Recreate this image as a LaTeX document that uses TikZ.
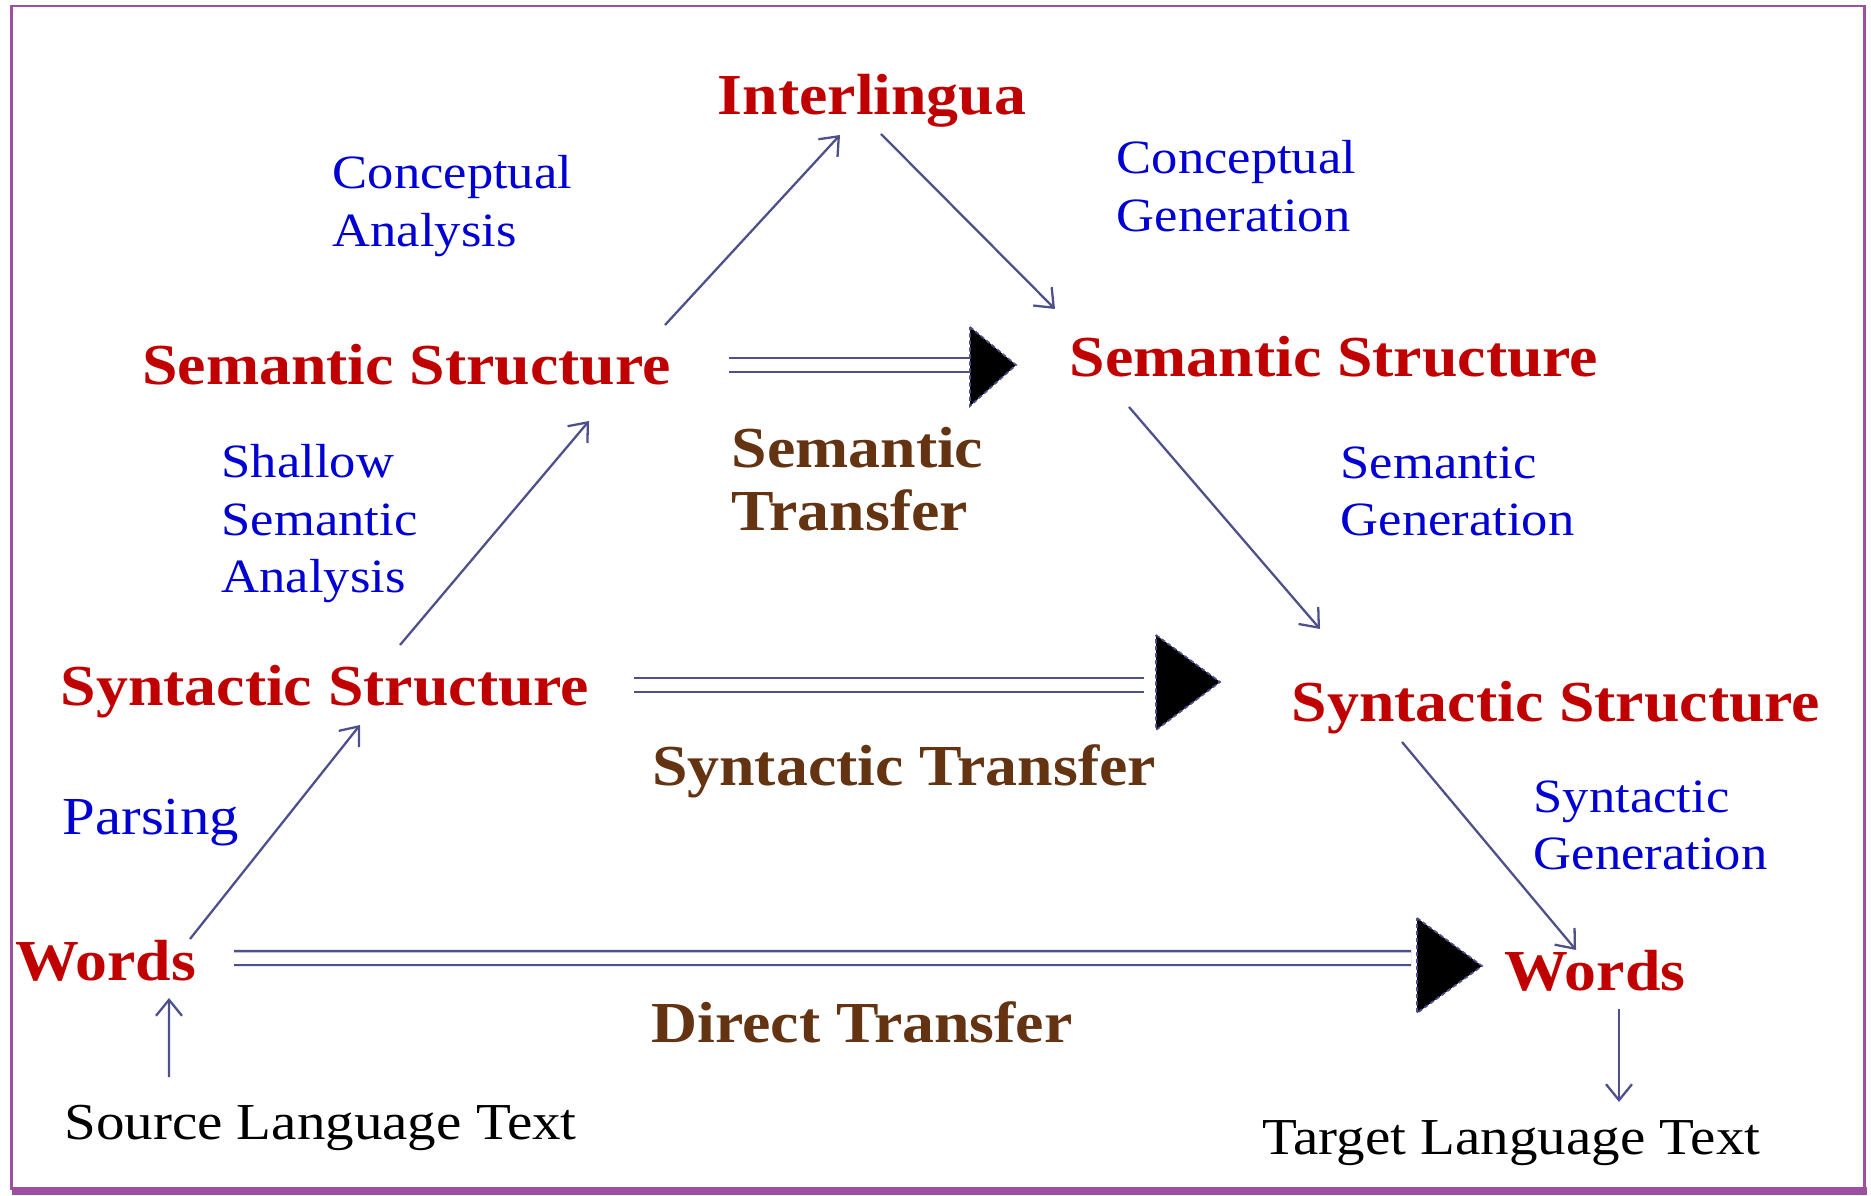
\documentclass[tikz,border=0pt]{standalone}
\usepackage{fontspec}
\setmainfont{Liberation Serif}[FakeStretch=1.1]
\usetikzlibrary{arrows.meta,calc}

\definecolor{levelred}{RGB}{192,0,0}
\definecolor{stepblue}{RGB}{0,0,210}
\definecolor{transbrown}{RGB}{99,51,18}
\definecolor{slate}{RGB}{78,80,140}
\definecolor{framepurple}{RGB}{155,80,160}

\begin{document}
\begin{tikzpicture}
		\tikzset{level/.style = {text=levelred, font=\fontsize{16.5}{18}\selectfont\bfseries, inner sep=0pt, anchor=base}}
		\tikzset{stepname/.style = {text=stepblue, font=\fontsize{13.6}{16.5}\selectfont, align=left, inner sep=0pt, anchor=base west}}
		\tikzset{trans/.style = {text=transbrown, font=\fontsize{16.5}{18.2}\selectfont\bfseries, align=left, inner sep=0pt, anchor=base west}}
		\tikzset{plain/.style = {text=black, font=\fontsize{14.75}{17}\selectfont, inner sep=0pt, anchor=base}}
		\tikzset{flow/.style = {draw=slate, line width=0.65pt, -{Straight Barb[length=1.6mm,width=2.6mm]}}}
		\tikzset{transfer/.style = {draw=slate, line width=0.7pt, double=white, double distance=0.115cm}}
		\tikzset{bighead/.style = {fill=black, draw=slate, line width=0.5pt, dashed, dash pattern=on 1.2pt off 0.8pt}}

		\useasboundingbox (0,0) rectangle (18.71,11.95);
		\draw[framepurple, line width=0.8pt] (0.115,0.06) rectangle (18.645,11.89);
		\fill[framepurple] (0.12,0) rectangle (18.665,0.08);

		\node[level] (inter) at (8.72,10.80) {Interlingua};
		\node[level] (semL) at (4.065,8.10) {Semantic Structure};
		\node[level] (semR) at (13.34,8.18) {Semantic Structure};
		\node[level] (synL) at (3.25,4.89) {Syntactic Structure};
		\node[level] (synR) at (15.56,4.73) {Syntactic Structure};
		\node[level] (wordL) at (1.055,2.15) {Words};
		\node[level] (wordR) at (15.95,2.05) {Words};

		\node[plain] (src) at (3.205,0.56) {Source Language Text};
		\node[plain] (tgt) at (15.115,0.41) {Target Language Text};

		\node[stepname] (conA) at (3.32,9.48) {Conceptual\\Analysis};
		\node[stepname] (conG) at (11.16,9.63) {Conceptual\\Generation};
		\node[stepname] (shallow) at (2.21,6.02) {Shallow\\Semantic\\Analysis};
		\node[stepname] (semG) at (13.40,6.59) {Semantic\\Generation};
		\node[stepname, font=\fontsize{15.2}{17}\selectfont] (parse) at (0.62,3.60) {Parsing};
		\node[stepname] (synG) at (15.33,3.25) {Syntactic\\Generation};

		\node[trans] (semT) at (7.31,6.64) {Semantic\\Transfer};
		\node[trans, anchor=base] (synT) at (9.04,4.09) {Syntactic Transfer};
		\node[trans, anchor=base] (dirT) at (8.62,1.53) {Direct Transfer};

		\draw[flow] ($(src.base)+(-1.515,0.62)$) -- ($(wordL.base)+(0.635,-0.18)$);
		\draw[flow] ($(wordL.base)+(0.845,0.41)$) -- ($(synL.base)+(0.35,-0.19)$);
		\draw[flow] ($(synL.base)+(0.75,0.61)$) -- ($(semL.base)+(1.825,-0.36)$);
		\draw[flow] ($(semL.base)+(2.585,0.60)$) -- ($(inter.base)+(-0.32,-0.20)$);
		\draw[flow] ($(inter.base)+(0.09,-0.19)$) -- ($(semR.base)+(-2.79,0.68)$);
		\draw[flow] ($(semR.base)+(-2.05,-0.30)$) -- ($(synR.base)+(-2.36,0.93)$);
		\draw[flow] ($(synR.base)+(-1.54,-0.20)$) -- ($(wordR.base)+(-0.19,0.40)$);
		\draw[flow] ($(wordR.base)+(0.24,-0.19)$) -- ($(tgt.base)+(1.075,0.52)$);

		\coordinate (semHead) at (9.70,8.30);
		\coordinate (synHead) at (11.56,5.10);
		\coordinate (dirHead) at (14.17,2.37);

		\draw[transfer] ($(semL.base)+(3.225,0.20)$) -- (semHead);
		\draw[transfer, shorten >=0.12cm] ($(synL.base)+(3.09,0.21)$) -- (synHead);
		\draw[transfer, shorten >=0.06cm] ($(wordL.base)+(1.285,0.22)$) -- (dirHead);

		\draw[bighead] ($(semHead)+(0,0.38)$) -- ++(0.46,-0.38) -- ++(-0.46,-0.41) -- cycle;
		\draw[bighead] ($(synHead)+(0,0.50)$) -- ++(0.64,-0.47) -- ++(-0.64,-0.48) -- cycle;
		\draw[bighead] ($(dirHead)+(0,0.40)$) -- ++(0.65,-0.48) -- ++(-0.65,-0.47) -- cycle;

	\end{tikzpicture}
\end{document}
